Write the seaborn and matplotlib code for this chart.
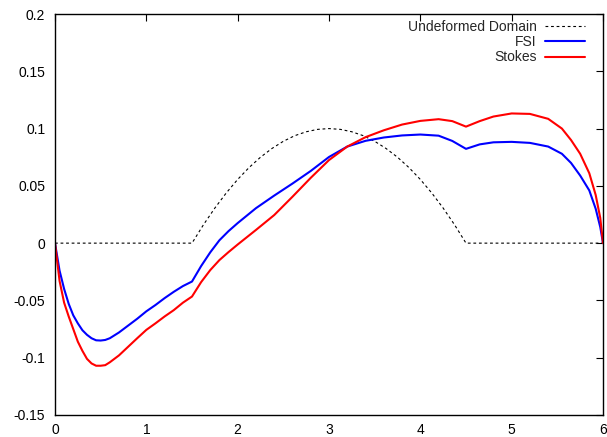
import matplotlib
matplotlib.use("Agg")
import matplotlib.pyplot as plt
import pandas as pd
import seaborn as sns
from matplotlib.ticker import FixedLocator, FuncFormatter

# Undeformed domain outline: flat bottom with a parabolic bump between x=1.5 and x=4.5
domain_x = [0.0, 1.5, 1.625, 1.75, 1.875, 2.0, 2.125, 2.25, 2.375, 2.5, 2.625, 2.75, 2.875,
            3.0, 3.125, 3.25, 3.375, 3.5, 3.625, 3.75, 3.875, 4.0, 4.125, 4.25, 4.375, 4.5, 6.0]
domain_y = [0.0, 0.0, 0.016, 0.0306, 0.0438, 0.0556, 0.066, 0.075, 0.0826, 0.0889, 0.0938, 0.0972, 0.0993,
            0.1, 0.0993, 0.0972, 0.0938, 0.0889, 0.0826, 0.075, 0.066, 0.0556, 0.0438, 0.0306, 0.016, 0.0, 0.0]

# Sampling positions shared by the two solution curves
curve_x = [0.0, 0.05, 0.1, 0.15, 0.2, 0.25, 0.3, 0.35, 0.4, 0.45, 0.5, 0.55, 0.6, 0.7, 0.8, 0.9,
           1.0, 1.1, 1.2, 1.3, 1.4, 1.5, 1.6, 1.7, 1.8, 1.9, 2.0, 2.2, 2.4, 2.6, 2.8, 3.0, 3.2,
           3.4, 3.6, 3.8, 4.0, 4.2, 4.35, 4.5, 4.65, 4.8, 5.0, 5.2, 5.4, 5.55, 5.65, 5.75, 5.85,
           5.92, 5.97, 6.0]

fsi_y = [0.0, -0.024, -0.040, -0.053, -0.063, -0.070, -0.076, -0.080, -0.083, -0.0848, -0.085,
         -0.0845, -0.083, -0.078, -0.072, -0.066, -0.0595, -0.054, -0.048, -0.0425, -0.0375,
         -0.0335, -0.020, -0.008, 0.0025, 0.0105, 0.0175, 0.0305, 0.0415, 0.052, 0.063, 0.0752,
         0.0843, 0.0893, 0.0922, 0.0940, 0.0948, 0.0938, 0.0892, 0.0823, 0.0862, 0.088, 0.0884,
         0.0875, 0.0843, 0.078, 0.070, 0.059, 0.046, 0.030, 0.014, 0.0]

stokes_y = [0.0, -0.033, -0.052, -0.064, -0.075, -0.086, -0.094, -0.101, -0.105, -0.107, -0.107,
            -0.1065, -0.104, -0.098, -0.0905, -0.083, -0.0757, -0.070, -0.064, -0.0585, -0.052,
            -0.0466, -0.034, -0.0235, -0.0148, -0.0078, -0.0012, 0.0115, 0.0245, 0.0405, 0.057,
            0.0725, 0.0843, 0.0925, 0.0985, 0.1035, 0.1067, 0.1082, 0.1065, 0.1017, 0.1065, 0.1105,
            0.1132, 0.1128, 0.1085, 0.100, 0.090, 0.078, 0.061, 0.042, 0.022, 0.0]

x_ticks = [0, 1, 2, 3, 4, 5, 6]
y_ticks = [-0.15, -0.1, -0.05, 0, 0.05, 0.1, 0.15, 0.2]

sns.set_style("white")
plt.rcParams["font.family"] = ["Liberation Sans", "DejaVu Sans"]
plt.rcParams["axes.unicode_minus"] = False

fig = plt.figure(figsize=(6.07, 4.37), dpi=100)
ax = fig.add_axes([55 / 607, 1 - 415 / 437, 548 / 607, 401 / 437])

domain_df = pd.DataFrame({"x": domain_x, "y": domain_y})
fsi_df = pd.DataFrame({"x": curve_x, "y": fsi_y})
stokes_df = pd.DataFrame({"x": curve_x, "y": stokes_y})

sns.lineplot(data=domain_df, x="x", y="y", ax=ax, sort=False, estimator=None,
             color="black", linewidth=0.8, dashes=False, label="Undeformed Domain")
ax.lines[-1].set_dashes([2.5, 2.5])
sns.lineplot(data=fsi_df, x="x", y="y", ax=ax, sort=False, estimator=None,
             color="#0000ff", linewidth=1.5, label="FSI")
sns.lineplot(data=stokes_df, x="x", y="y", ax=ax, sort=False, estimator=None,
             color="#ff0000", linewidth=1.5, label="Stokes")

ax.set_xlim(0, 6)
ax.set_ylim(-0.15, 0.2)
ax.xaxis.set_major_locator(FixedLocator(x_ticks))
ax.yaxis.set_major_locator(FixedLocator(y_ticks))
ax.xaxis.set_major_formatter(FuncFormatter(lambda v, p: f"{v:g}"))
ax.yaxis.set_major_formatter(FuncFormatter(lambda v, p: f"{v:g}"))
ax.set_xlabel("")
ax.set_ylabel("")

for side in ["left", "right", "top", "bottom"]:
    ax.spines[side].set_visible(True)
    ax.spines[side].set_color("black")
    ax.spines[side].set_linewidth(1.0)

ax.tick_params(axis="both", which="major", direction="in", length=5, width=0.8,
               top=True, right=True, labelsize=10, colors="black")
ax.tick_params(axis="x", pad=6)
ax.tick_params(axis="y", pad=7)

leg = ax.legend(loc="upper right", bbox_to_anchor=(592 / 607, 1 - 13 / 437),
                bbox_transform=fig.transFigure, frameon=False, borderpad=0,
                handlelength=2.9, handletextpad=0.6, labelspacing=0.09,
                markerfirst=False, fontsize=10)

fig.savefig("out.png", dpi=100)
